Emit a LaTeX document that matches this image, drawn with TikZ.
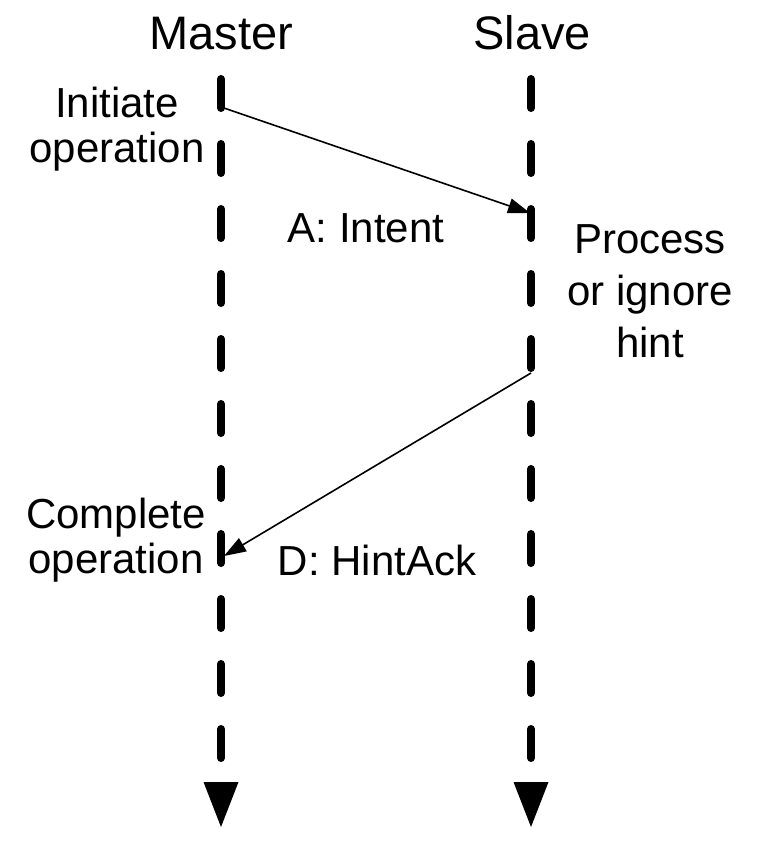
\documentclass[tikz,border=0pt]{standalone}
\usepackage{fontspec}
\setmainfont{Liberation Sans}
\usetikzlibrary{arrows.meta}
\begin{document}
\begin{tikzpicture}[x=1pt,y=-1pt,
  title/.style={font=\fontsize{47}{52}\selectfont, inner sep=0pt, anchor=base},
  lbl/.style={font=\fontsize{42}{45}\selectfont, inner sep=0pt, anchor=base, align=center},
  lbltall/.style={font=\fontsize{42}{52}\selectfont, inner sep=0pt, anchor=base, align=center},
  lifeline/.style={line width=8pt, line cap=round, dash pattern=on 29pt off 36pt},
  endtip/.style={fill=black},
  msg/.style={line width=1.6pt, -{Triangle[length=22pt,width=15pt]}}]
\useasboundingbox (0,0) rectangle (756,842);
% lifelines
\coordinate (mtop) at (221,79);
\coordinate (mbot) at (221,760);
\coordinate (stop) at (531,79);
\coordinate (sbot) at (531,760);
\draw[lifeline] (mtop) -- (mbot);
\draw[lifeline] (stop) -- (sbot);
\fill[endtip] (203.5,782) -- (238.5,782) -- (221,827) -- cycle;
\fill[endtip] (513.5,782) -- (548.5,782) -- (531,827) -- cycle;
% titles
\node[title] (master) at (221.5,50) {Master};
\node[title] (slave) at (532,50) {Slave};
% labels (base anchor = baseline of last line)
\node[lbl] (init) at (117,163) {Initiate\\operation};
\node[lbl] (intent) at (366,242) {A: Intent};
\node[lbltall] (proc) at (650,357) {Process\\or ignore\\hint};
\node[lbl] (compl) at (116,573) {Complete\\operation};
\node[lbl] (hack) at (377,575) {D: HintAck};
% messages
\coordinate (a0) at (221,107);
\coordinate (a1) at (530,213);
\coordinate (d0) at (531,373);
\coordinate (d1) at (224,556);
\draw[msg] (a0) -- (a1);
\draw[msg] (d0) -- (d1);
\end{tikzpicture}
\end{document}
